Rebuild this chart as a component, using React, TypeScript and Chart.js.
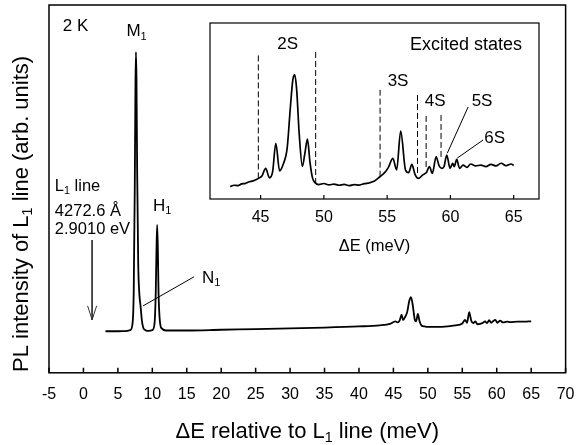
import React, { useEffect, useRef } from "react";
import { Chart, registerables } from "chart.js";
Chart.register(...registerables);

const FONT = "'Liberation Sans', Arial, Helvetica, sans-serif";

// ---- Main spectrum (ΔE in meV, intensity arb. units) ----
const mainX = [3.2, 5, 6, 6.8, 7.1, 7.3, 7.45, 7.55, 7.62, 7.7, 7.8, 7.95, 8.1, 8.3, 8.5, 8.7, 9.0, 9.5, 10.0, 10.3, 10.5, 10.6, 10.7, 10.8, 10.9, 11.1, 11.4, 12, 15, 20, 25, 30, 35, 40, 43, 44.5, 45.3, 45.6, 45.9, 46.2, 46.4, 46.7, 47.0, 47.3, 47.55, 47.8, 48.1, 48.3, 48.55, 48.8, 49.1, 49.5, 50, 52, 54, 55.0, 55.4, 55.7, 56.0, 56.3, 56.6, 56.9, 57.2, 57.6, 58.0, 58.3, 58.6, 58.9, 59.2, 59.5, 59.8, 60.1, 60.5, 60.9, 61.5, 62, 63, 64, 65];
const mainY = [11.3, 11.3, 11.35, 11.6, 13, 22, 50, 78, 87.2, 80, 55, 30, 22, 18, 14, 12.2, 11.6, 11.4, 11.6, 13, 22, 33, 40.2, 34, 22, 14, 12, 11.5, 11.5, 11.7, 11.9, 12.1, 12.3, 12.6, 12.9, 13.3, 14.0, 13.7, 14.2, 15.8, 14.3, 15.2, 16.5, 19.5, 20.6, 18.5, 14.5, 14.0, 16.0, 14.0, 12.8, 12.6, 12.5, 12.5, 12.9, 13.4, 14.4, 13.6, 16.5, 14.2, 13.5, 14.0, 13.2, 13.3, 13.6, 14.0, 13.5, 14.3, 13.6, 14.1, 14.4, 13.6, 14.2, 13.7, 13.9, 13.8, 13.9, 13.9, 14.0];

// ---- Inset: excited states ----
const insetX = [42.6, 42.9, 43.2, 43.5, 43.8, 44.1, 44.4, 44.7, 44.9, 45.1, 45.4, 45.7, 45.95, 46.2, 46.5, 46.8, 47.1, 47.35, 47.55, 47.7, 47.85, 48.05, 48.3, 48.5, 48.7, 48.9, 49.1, 49.3, 49.6, 50.0, 50.4, 50.8, 51.2, 51.6, 52.0, 52.4, 52.8, 53.2, 53.6, 54.0, 54.4, 54.8, 55.1, 55.45, 55.75, 56.07, 56.45, 56.7, 56.95, 57.2, 57.47, 57.8, 58.1, 58.34, 58.57, 58.87, 59.1, 59.32, 59.5, 59.71, 59.97, 60.18, 60.3, 60.5, 60.72, 61.0, 61.3, 61.6, 62.0, 62.4, 62.8, 63.2, 63.6, 64.0, 64.4, 64.8, 65.0];
const insetY = [7.0, 7.8, 7.6, 8.6, 8.9, 9.8, 10.3, 11.2, 12.0, 13.0, 17.4, 12.0, 15.5, 31.6, 16.0, 20.0, 29.0, 52.0, 68.0, 70.5, 62.0, 37.0, 18.5, 26.0, 34.0, 21.0, 12.0, 9.3, 8.2, 8.8, 8.0, 8.5, 7.8, 8.3, 7.6, 8.2, 7.9, 8.7, 9.2, 10.2, 12.5, 15.0, 18.0, 23.1, 16.5, 38.6, 16.5, 15.0, 19.7, 14.0, 11.7, 13.6, 15.0, 18.4, 14.6, 24.0, 19.0, 17.4, 18.5, 25.0, 17.4, 20.3, 18.4, 22.5, 17.4, 19.3, 18.0, 19.9, 18.8, 19.3, 18.4, 19.7, 18.8, 20.3, 18.9, 19.9, 19.1];

// dashed markers of the nS series
const dashX = [44.82, 49.35, 54.44, 57.4, 58.08, 59.26];
const dashTop = [83, 84.7, 62, 60.8, 47.7, 47.7];
const dashBottom = [11.7, 8.5, 12.7, 14.8, 18.2, 23.9];

// leader lines
const leader5S = [{ x: 61.4, y: 52.3 }, { x: 59.75, y: 26.0 }];
const leader6S = [{ x: 62.58, y: 33.5 }, { x: 60.55, y: 23.3 }];
const leaderN1 = [{ x: 16.06, y: 26.1 }, { x: 8.66, y: 18.2 }];
const arrowL1 = [{ x: 1.26, y: 36.1 }, { x: 1.26, y: 14.4 }];

type Part = { t: string; sub?: boolean };
type Label = { parts: Part[]; x: number; y: number; align: "left" | "center" | "right"; size: number };

const mainLabels: Label[] = [
  { parts: [{ t: "2 K" }], x: -3, y: 94.6, align: "left", size: 17 },
  { parts: [{ t: "M" }, { t: "1", sub: true }], x: 6.24, y: 93.2, align: "left", size: 17 },
  { parts: [{ t: "H" }, { t: "1", sub: true }], x: 10.1, y: 45.7, align: "left", size: 17 },
  { parts: [{ t: "N" }, { t: "1", sub: true }], x: 17.2, y: 26.1, align: "left", size: 17 },
  { parts: [{ t: "L" }, { t: "1", sub: true }, { t: " line" }], x: -4.15, y: 51.1, align: "left", size: 16.5 },
  { parts: [{ t: "4272.6 Å" }], x: -4.15, y: 44.3, align: "left", size: 16.5 },
  { parts: [{ t: "2.9010 eV" }], x: -4.15, y: 39.4, align: "left", size: 16.5 },
];

const insetLabels: Label[] = [
  { parts: [{ t: "2S" }], x: 47.13, y: 88.6, align: "center", size: 17 },
  { parts: [{ t: "Excited states" }], x: 65.66, y: 88.6, align: "right", size: 18 },
  { parts: [{ t: "3S" }], x: 55.86, y: 67.6, align: "center", size: 17 },
  { parts: [{ t: "4S" }], x: 58.79, y: 56.25, align: "center", size: 17 },
  { parts: [{ t: "5S" }], x: 62.5, y: 56.25, align: "center", size: 17 },
  { parts: [{ t: "6S" }], x: 63.5, y: 35.2, align: "center", size: 17 },
];

function drawRich(ctx: CanvasRenderingContext2D, parts: Part[], x: number, y: number, size: number, align: string) {
  ctx.save();
  ctx.fillStyle = "#000";
  ctx.textBaseline = "alphabetic";
  ctx.textAlign = "left";
  const sub = size * 0.65;
  let w = 0;
  const widths = parts.map((p) => {
    ctx.font = `${p.sub ? sub : size}px ${FONT}`;
    const m = ctx.measureText(p.t).width;
    w += m;
    return m;
  });
  let cx = align === "center" ? x - w / 2 : align === "right" ? x - w : x;
  const base = y + size * 0.36;
  parts.forEach((p, i) => {
    ctx.font = `${p.sub ? sub : size}px ${FONT}`;
    ctx.fillText(p.t, cx, p.sub ? base + size * 0.2 : base);
    cx += widths[i];
  });
  ctx.restore();
}

function drawFrameAndTicks(chart: any, lw: number, tl: number) {
  const { ctx, chartArea } = chart;
  const { left, right, top, bottom } = chartArea;
  ctx.save();
  ctx.strokeStyle = "#000";
  ctx.lineWidth = lw;
  ctx.strokeRect(left, top, right - left, bottom - top);
  const xs = chart.scales.x;
  ctx.beginPath();
  xs.ticks.forEach((t: any) => {
    const px = xs.getPixelForValue(t.value);
    ctx.moveTo(px, bottom);
    ctx.lineTo(px, bottom - tl);
  });
  ctx.stroke();
  ctx.restore();
}

const mainPlugin = {
  id: "mainDecor",
  afterDraw(chart: any) {
    const { ctx, chartArea } = chart;
    const xs = chart.scales.x;
    const ys = chart.scales.y;
    drawFrameAndTicks(chart, 1.5, 5);
    mainLabels.forEach((l) => drawRich(ctx, l.parts, xs.getPixelForValue(l.x), ys.getPixelForValue(l.y), l.size, l.align));
    // arrow head
    const tx = xs.getPixelForValue(arrowL1[1].x);
    const ty = ys.getPixelForValue(arrowL1[1].y);
    ctx.save();
    ctx.strokeStyle = "#333";
    ctx.lineWidth = 1;
    ctx.beginPath();
    ctx.moveTo(tx - 4.5, ty - 14);
    ctx.lineTo(tx, ty);
    ctx.lineTo(tx + 4.5, ty - 14);
    ctx.stroke();
    ctx.restore();
    // axis titles
    const cx = (chartArea.left + chartArea.right) / 2;
    drawRich(ctx, [{ t: "ΔE relative to L" }, { t: "1", sub: true }, { t: " line (meV)" }], cx, chartArea.bottom + 57, 22, "center");
    ctx.save();
    ctx.translate(chartArea.left - 29, (chartArea.top + chartArea.bottom) / 2 + 25);
    ctx.rotate(-Math.PI / 2);
    drawRich(ctx, [{ t: "PL intensity of L" }, { t: "1", sub: true }, { t: " line (arb. units)" }], 0, 0, 22, "center");
    ctx.restore();
  },
};

const insetPlugin = {
  id: "insetDecor",
  beforeDraw(chart: any) {
    const { ctx, chartArea } = chart;
    ctx.save();
    ctx.fillStyle = "#fff";
    ctx.fillRect(chartArea.left, chartArea.top, chartArea.right - chartArea.left, chartArea.bottom - chartArea.top);
    ctx.restore();
  },
  afterDraw(chart: any) {
    const { ctx, chartArea } = chart;
    const xs = chart.scales.x;
    const ys = chart.scales.y;
    drawFrameAndTicks(chart, 1.2, 4);
    insetLabels.forEach((l) => drawRich(ctx, l.parts, xs.getPixelForValue(l.x), ys.getPixelForValue(l.y), l.size, l.align));
    drawRich(ctx, [{ t: "ΔE (meV)" }], (chartArea.left + chartArea.right) / 2, chartArea.bottom + 46, 16.5, "center");
  },
};

export default function App() {
  const mainRef = useRef<HTMLCanvasElement>(null);
  const insetRef = useRef<HTMLCanvasElement>(null);

  useEffect(() => {
    Chart.defaults.color = "#000";
    Chart.defaults.font.family = FONT;
    const thin = { borderColor: "#000", borderWidth: 1, pointRadius: 0, fill: false };
    const main = new Chart(mainRef.current!, {
      type: "line",
      data: {
        datasets: [
          { data: mainX.map((x, i) => ({ x, y: mainY[i] })), borderColor: "#000", borderWidth: 1.8, pointRadius: 0, fill: false, cubicInterpolationMode: "monotone" } as any,
          { data: leaderN1, ...thin } as any,
          { data: arrowL1, ...thin, borderColor: "#333" } as any,
        ],
      },
      options: {
        animation: false,
        responsive: true,
        maintainAspectRatio: false,
        layout: { padding: { left: 49, right: 11, top: 5, bottom: 28 } },
        plugins: { legend: { display: false }, tooltip: { enabled: false } },
        scales: {
          x: {
            type: "linear",
            min: -5,
            max: 70,
            grid: { display: false, drawTicks: false },
            border: { display: false },
            ticks: { stepSize: 5, autoSkip: false, maxRotation: 0, padding: 12.5, color: "#000", font: { size: 16, family: FONT } },
          },
          y: { type: "linear", min: 0, max: 100, display: false },
        },
      },
      plugins: [mainPlugin],
    });

    const inset = new Chart(insetRef.current!, {
      type: "line",
      data: {
        datasets: [
          { data: insetX.map((x, i) => ({ x, y: insetY[i] })), borderColor: "#000", borderWidth: 1.7, pointRadius: 0, fill: false, cubicInterpolationMode: "monotone" } as any,
          ...dashX.map((x, i) => ({ data: [{ x, y: dashBottom[i] }, { x, y: dashTop[i] }], ...thin, borderDash: [6, 3] } as any)),
          { data: leader5S, ...thin } as any,
          { data: leader6S, ...thin } as any,
        ],
      },
      options: {
        animation: false,
        responsive: true,
        maintainAspectRatio: false,
        layout: { padding: { left: 10, right: 11, top: 13, bottom: 28 } },
        plugins: { legend: { display: false }, tooltip: { enabled: false } },
        scales: {
          x: {
            type: "linear",
            min: 41,
            max: 67,
            grid: { display: false, drawTicks: false },
            border: { display: false },
            afterBuildTicks: (s: any) => {
              s.ticks = s.ticks.filter((t: any) => t.value % 5 === 0);
            },
            ticks: { stepSize: 5, includeBounds: false, autoSkip: false, maxRotation: 0, padding: 9.4, color: "#000", font: { size: 16, family: FONT } } as any,
          },
          y: { type: "linear", min: 0, max: 100, display: false },
        },
      },
      plugins: [insetPlugin],
    });

    return () => {
      main.destroy();
      inset.destroy();
    };
  }, []);

  return (
    <div style={{ position: "absolute", left: 0, top: 0, width: 587, height: 445, background: "#fff" }}>
      <div style={{ position: "absolute", left: 0, top: 0, width: 587, height: 445 }}>
        <canvas ref={mainRef} />
      </div>
      <div style={{ position: "absolute", left: 200, top: 10, width: 350, height: 255 }}>
        <canvas ref={insetRef} />
      </div>
    </div>
  );
}
